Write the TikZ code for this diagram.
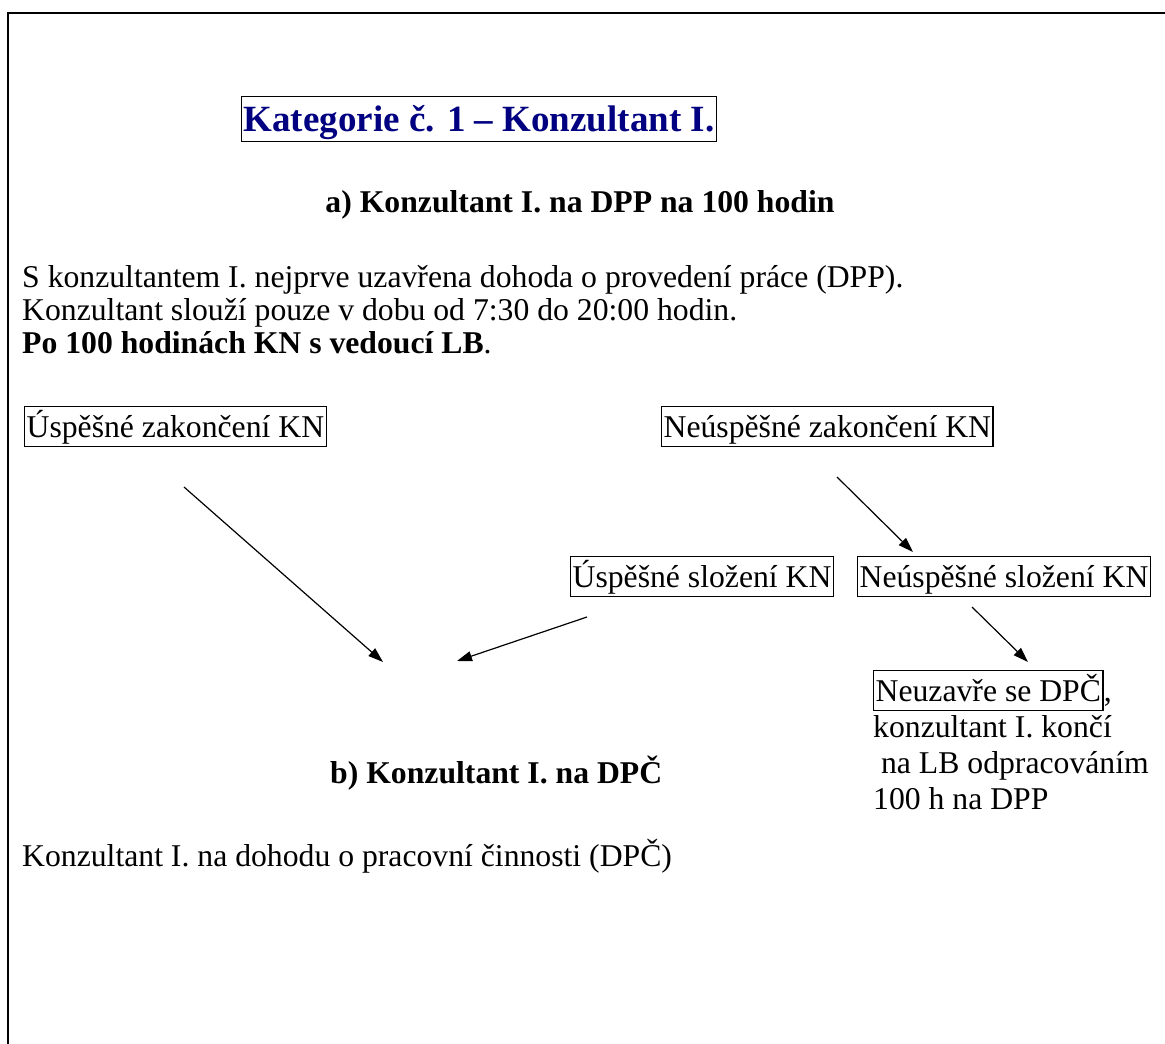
\documentclass[tikz,border=0pt]{standalone}
\usepackage{fontspec}
\setmainfont{Liberation Serif}
\usetikzlibrary{arrows.meta,positioning}
\definecolor{navy}{RGB}{0,0,128}
\newcommand{\txt}{\fontsize{31.7}{33}\selectfont}
\newcommand{\ttl}{\fontsize{37}{40}\selectfont\bfseries}
\tikzset{
  every node/.style={font=\txt, inner sep=0pt},
  kbox/.style={draw, line width=1.3pt, inner xsep=2pt, inner ysep=1pt,
    text height=29.5pt, text depth=8pt, anchor=north west},
  line/.style={anchor=base west},
  arr/.style={-{Triangle[length=15pt,width=10pt]}, line width=1.2pt}
}

\begin{document}
\begin{tikzpicture}[x=1pt,y=-1pt]
\useasboundingbox (0,0) rectangle (1165,1044);
\draw[line width=2pt] (1166,13) -- (8,13) -- (8,1045);
% title
\node[kbox, font=\ttl, text=navy, text height=34pt, text depth=9pt] (title) at (241,96) {Kategorie č. 1 – Konzultant I.};
\node[anchor=base, font=\txt\bfseries] (heada) at (580,212) {a) Konzultant I. na DPP na 100 hodin};
% intro text
\node[line] (l1) at (22,287) {S konzultantem I. nejprve uzavřena dohoda o provedení práce (DPP).};
\node[line] (l2) at ([yshift=-33pt]l1.base west) {Konzultant slouží pouze v dobu od 7:30 do 20:00 hodin.};
\node[line] (l3) at ([yshift=-33pt]l2.base west) {\textbf{Po 100 hodinách KN s vedoucí LB}.};
% result boxes
\node[kbox] (uz) at (24,406) {Úspěšné zakončení KN};
\node[kbox] (nz) at (661,406) {Neúspěšné zakončení KN};
\node[kbox] (us) at (570,556) {Úspěšné složení KN};
\node[kbox] (ns) at (857,556) {Neúspěšné složení KN};
\node[kbox] (nd) at (873,670) {Neuzavře se DPČ};
\node[line] (comma) at (nd.base east) {,};
\node[line] (e1) at ([yshift=-36pt]nd.base west) {konzultant I. končí};
\node[line] (e2) at ([yshift=-36pt]e1.base west) {\ na LB odpracováním};
\node[line] (e3) at ([yshift=-36pt]e2.base west) {100 h na DPP};
% part b
\node[line, font=\txt\bfseries] (headb) at (330,783) {b) Konzultant I. na DPČ};
\node[line] (lb) at (22,866) {Konzultant I. na dohodu o pracovní činnosti (DPČ)};
% arrows
\coordinate (a1s) at (184,487);
\coordinate (a1e) at (383,662);
\coordinate (a2s) at (587,617);
\coordinate (a2e) at (457,661);
\coordinate (a3s) at (837,477);
\coordinate (a3e) at (913,552);
\coordinate (a4s) at (972,607);
\coordinate (a4e) at (1028,662);
\draw[arr] (a1s) -- (a1e);
\draw[arr] (a2s) -- (a2e);
\draw[arr] (a3s) -- (a3e);
\draw[arr] (a4s) -- (a4e);
\end{tikzpicture}
\end{document}
